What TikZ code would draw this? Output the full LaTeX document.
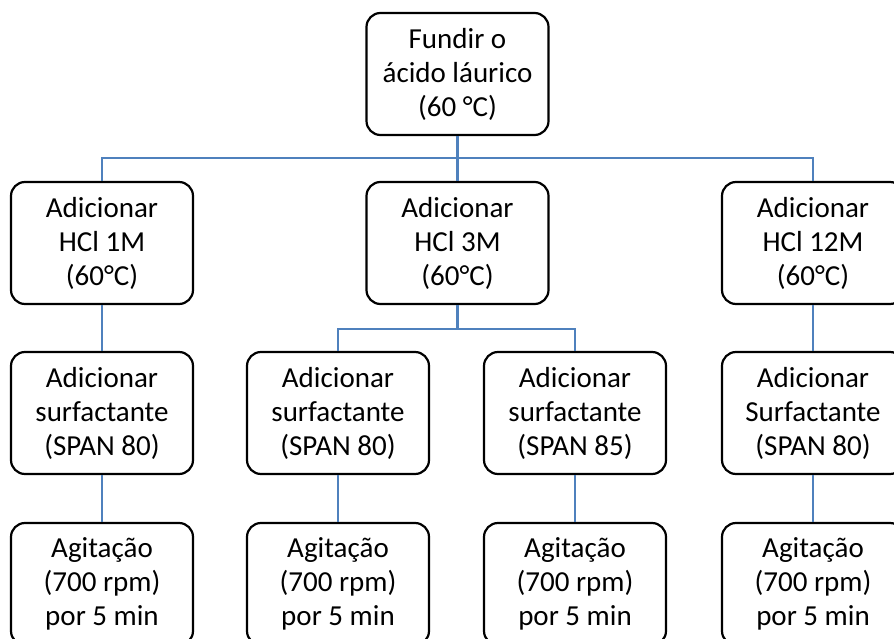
\documentclass[tikz,border=0pt]{standalone}
\usepackage{fontspec}
\setmainfont{Carlito}
\usetikzlibrary{positioning}
\definecolor{linkblue}{RGB}{79,129,189}

\begin{document}
\begin{tikzpicture}[x=1pt,y=-1pt,
	box/.style={draw=black,line width=2.2pt,rounded corners=14pt,
		minimum width=182pt,minimum height=122pt,inner sep=0pt,
		align=center,font=\fontsize{29}{34}\selectfont},
	link/.style={draw=linkblue,line width=2.8pt}]
	\useasboundingbox (0,0) rectangle (894,639);
	% top
	\node[box] (fundir) at (457.5,74) {Fundir o\\ácido láurico\\(60 °C)};
	% acid row
	\node[box] (hclA) at (102,243) {Adicionar\\HCl 1M\\(60°C)};
	\node[box] (hclB) at (457.5,243) {Adicionar\\HCl 3M\\(60°C)};
	\node[box] (hclC) at (813,243) {Adicionar\\HCl 12M\\(60°C)};
	% surfactant row
	\node[box] (surfA) at (102,413) {Adicionar\\surfactante\\(SPAN 80)};
	\node[box] (surfB) at (338,413) {Adicionar\\surfactante\\(SPAN 80)};
	\node[box] (surfC) at (575,413) {Adicionar\\surfactante\\(SPAN 85)};
	\node[box] (surfD) at (813,413) {Adicionar\\Surfactante\\(SPAN 80)};
	% stirring row
	\node[box] (agitA) at (102,584) {Agitação\\(700 rpm)\\por 5 min};
	\node[box] (agitB) at (338,584) {Agitação\\(700 rpm)\\por 5 min};
	\node[box] (agitC) at (575,584) {Agitação\\(700 rpm)\\por 5 min};
	\node[box] (agitD) at (813,584) {Agitação\\(700 rpm)\\por 5 min};
	% connectors
	\coordinate (barA) at (457.5,158);
	\coordinate (barB) at (457.5,329);
	\draw[link] (fundir.south) -- (hclB.north);
	\draw[link] (hclA.north) |- (barA) -| (hclC.north);
	\draw[link] (hclB.south) -- (barB);
	\draw[link] (surfB.north) |- (barB) -| (surfC.north);
	\draw[link] (hclA.south) -- (surfA.north);
	\draw[link] (hclC.south) -- (surfD.north);
	\draw[link] (surfA.south) -- (agitA.north);
	\draw[link] (surfB.south) -- (agitB.north);
	\draw[link] (surfC.south) -- (agitC.north);
	\draw[link] (surfD.south) -- (agitD.north);
\end{tikzpicture}
\end{document}
